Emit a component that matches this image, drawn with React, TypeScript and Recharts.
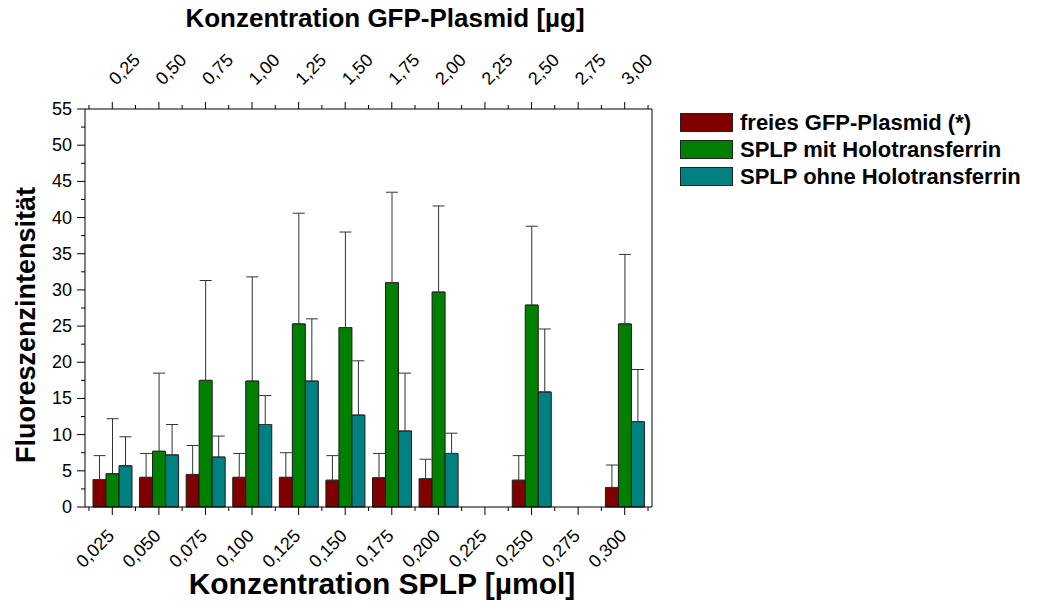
import { BarChart, Bar, XAxis, YAxis, ErrorBar } from 'recharts'

const splpLabels = ['0,025', '0,050', '0,075', '0,100', '0,125', '0,150', '0,175', '0,200', '0,225', '0,250', '0,275', '0,300']
const plasmidLabels = ['0,25', '0,50', '0,75', '1,00', '1,25', '1,50', '1,75', '2,00', '2,25', '2,50', '2,75', '3,00']

// mean fluorescence and upper error (SD) per series, null = no measurement
const freePlasmid = [3.8, 4.1, 4.5, 4.1, 4.1, 3.7, 4.05, 3.9, null, 3.7, null, 2.7]
const freePlasmidErr = [3.3, 3.3, 4.0, 3.3, 3.4, 3.4, 3.35, 2.7, null, 3.4, null, 3.1]
const withHolo = [4.6, 7.7, 17.5, 17.4, 25.3, 24.8, 31.0, 29.7, null, 27.9, null, 25.3]
const withHoloErr = [7.6, 10.8, 13.8, 14.4, 15.3, 13.2, 12.5, 11.9, null, 10.9, null, 9.6]
const withoutHolo = [5.7, 7.2, 6.9, 11.4, 17.4, 12.7, 10.5, 7.4, null, 15.9, null, 11.8]
const withoutHoloErr = [4.0, 4.2, 2.9, 4.0, 8.6, 7.5, 8.0, 2.8, null, 8.7, null, 7.2]

const yTicks = [0, 2.5, 5, 7.5, 10, 12.5, 15, 17.5, 20, 22.5, 25, 27.5, 30, 32.5, 35, 37.5, 40, 42.5, 45, 47.5, 50, 52.5, 55]

const series = [
    { key: 'free', name: 'freies GFP-Plasmid (*)', color: '#800000' },
    { key: 'holo', name: 'SPLP mit Holotransferrin', color: '#008000' },
    { key: 'noHolo', name: 'SPLP ohne Holotransferrin', color: '#008080' },
]

const data = splpLabels.map((label, i) => ({
    splp: label,
    plasmid: plasmidLabels[i],
    free: freePlasmid[i],
    freeErr: freePlasmidErr[i],
    holo: withHolo[i],
    holoErr: withHoloErr[i],
    noHolo: withoutHolo[i],
    noHoloErr: withoutHoloErr[i],
}))

const FONT = 'Arial, "Liberation Sans", sans-serif'
const BAND = 560 / 12

const BottomTick = ({ x, y, payload, index }: any) => (
    <g>
        <line x1={x} y1={y} x2={x} y2={y + 8} stroke="#000" />
        <line x1={x - BAND / 2} y1={y} x2={x - BAND / 2} y2={y + 4} stroke="#000" />
        {index === 11 && <line x1={x + BAND / 2} y1={y} x2={x + BAND / 2} y2={y + 4} stroke="#000" />}
        <text
            x={x + 3}
            y={y + 30}
            textAnchor="end"
            fontSize={18}
            fontFamily={FONT}
            fill="#000"
            transform={`rotate(-45 ${x + 3} ${y + 30})`}
        >
            {payload.value}
        </text>
    </g>
)

const TopTick = ({ x, y, payload, index }: any) => (
    <g>
        <line x1={x} y1={y} x2={x} y2={y - 7} stroke="#000" />
        <line x1={x - BAND / 2} y1={y} x2={x - BAND / 2} y2={y - 4} stroke="#000" />
        {index === 11 && <line x1={x + BAND / 2} y1={y} x2={x + BAND / 2} y2={y - 4} stroke="#000" />}
        <text
            x={x + 4}
            y={y - 23}
            textAnchor="start"
            fontSize={18}
            fontFamily={FONT}
            fill="#000"
            transform={`rotate(-45 ${x + 4} ${y - 23})`}
        >
            {payload.value}
        </text>
    </g>
)

const LeftTick = ({ x, y, payload }: any) => {
    const major = payload.value % 5 === 0
    return (
        <g>
            <line x1={x} y1={y} x2={x - (major ? 8 : 4)} y2={y} stroke="#000" />
            {major && (
                <text x={x - 13} y={y + 6} textAnchor="end" fontSize={18} fontFamily={FONT} fill="#000">
                    {payload.value}
                </text>
            )}
        </g>
    )
}

const RightTick = ({ x, y, payload }: any) => (
    <line x1={x} y1={y} x2={x - (payload.value % 5 === 0 ? 5 : 4)} y2={y} stroke="#000" />
)

const LegendBox = () => (
    <div style={{ position: 'absolute', left: 680, top: 109, fontFamily: FONT, fontWeight: 'bold', fontSize: 22, color: '#000' }}>
        {series.map((s) => (
            <div key={s.key} style={{ display: 'flex', alignItems: 'center', height: 27, whiteSpace: 'nowrap' }}>
                <div style={{ width: 51, height: 17, background: s.color, border: '1px solid #222', marginRight: 7 }} />
                <span>{s.name}</span>
            </div>
        ))}
    </div>
)

export default function App() {
    return (
        <div style={{ position: 'absolute', left: 0, top: 0, width: 1039, height: 610, background: '#fff', fontFamily: FONT }}>
            <BarChart
                width={1039}
                height={610}
                data={data}
                margin={{ top: 59, right: 386, bottom: 53, left: 35 }}
                barGap={0}
                barSize={13}
            >
                <XAxis
                    xAxisId="bottom"
                    dataKey="splp"
                    orientation="bottom"
                    height={50}
                    interval={0}
                    padding={{ left: 4, right: 4 }}
                    tickSize={0}
                    tickMargin={0}
                    tickLine={false}
                    tick={<BottomTick />}
                    axisLine={{ stroke: '#000' }}
                />
                <XAxis
                    xAxisId="top"
                    dataKey="plasmid"
                    orientation="top"
                    height={50}
                    interval={0}
                    padding={{ left: 4, right: 4 }}
                    tickSize={0}
                    tickMargin={0}
                    tickLine={false}
                    tick={<TopTick />}
                    axisLine={{ stroke: '#000' }}
                />
                <YAxis
                    yAxisId="left"
                    width={50}
                    domain={[0, 55]}
                    ticks={yTicks}
                    interval={0}
                    tickSize={0}
                    tickMargin={0}
                    tickLine={false}
                    tick={<LeftTick />}
                    axisLine={{ stroke: '#000' }}
                />
                <YAxis
                    yAxisId="right"
                    orientation="right"
                    width={1}
                    domain={[0, 55]}
                    ticks={yTicks}
                    interval={0}
                    tickSize={0}
                    tickMargin={0}
                    tickLine={false}
                    tick={<RightTick />}
                    axisLine={{ stroke: '#000' }}
                />
                {series.map((s) => (
                    <Bar
                        key={s.key}
                        xAxisId="bottom"
                        yAxisId="left"
                        dataKey={s.key}
                        name={s.name}
                        fill={s.color}
                        stroke="#1a1a1a"
                        strokeWidth={1}
                        isAnimationActive={false}
                    >
                        <ErrorBar
                            dataKey={(d: any) => [0, d[s.key + 'Err'] ?? 0]}
                            width={6}
                            stroke="#333"
                            strokeWidth={1}
                            direction="y"
                        />
                    </Bar>
                ))}
            </BarChart>
            <LegendBox />
            <div style={{ position: 'absolute', left: 0, width: 770, top: 3, textAlign: 'center', fontSize: 26, fontWeight: 'bold', whiteSpace: 'nowrap' }}>
                Konzentration GFP-Plasmid [µg]
            </div>
            <div style={{ position: 'absolute', left: 0, width: 764, top: 567, textAlign: 'center', fontSize: 30, fontWeight: 'bold', whiteSpace: 'nowrap' }}>
                Konzentration SPLP [µmol]
            </div>
            <div
                style={{
                    position: 'absolute',
                    left: 26,
                    top: 325,
                    fontSize: 27,
                    fontWeight: 'bold',
                    whiteSpace: 'nowrap',
                    transform: 'translate(-50%, -50%) rotate(-90deg)',
                }}
            >
                Fluoreszenzintensität
            </div>
        </div>
    )
}
